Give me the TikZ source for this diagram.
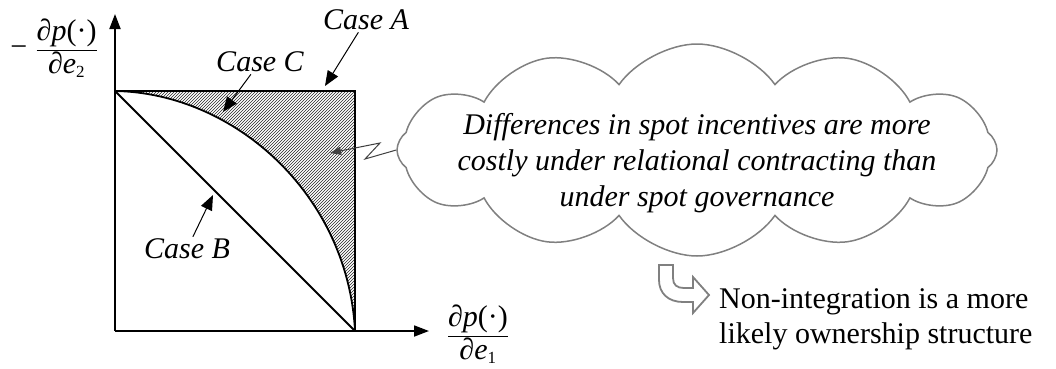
\documentclass[tikz,border=0pt]{standalone}
\usepackage{fontspec}
\setmainfont{Liberation Serif}
\usetikzlibrary{arrows.meta, positioning, patterns, shapes.symbols}

\newcommand{\pderiv}[1]{$\displaystyle\frac{\hbox{\itshape ∂p\/\upshape(·)}}{\hbox{\itshape ∂e}_{\hbox{\fontsize{17}{17}\selectfont #1}}}$}

\begin{document}
\begin{tikzpicture}[
    x=1pt, y=-1pt,
    every node/.style={font=\fontsize{30}{35}\selectfont},
    axis/.style={line width=1.8pt, -{Triangle[length=15pt, width=11pt]}},
    edge/.style={line width=1.8pt},
    ptr/.style={line width=1pt, -{Triangle[length=15pt, width=12pt]}},
    case/.style={font=\fontsize{30}{35}\selectfont\itshape, inner sep=2pt},
    thought/.style={cloud, cloud puffs=12, cloud puff arc=110, aspect=2.9, draw=black!50, line width=1.5pt, minimum width=600pt, minimum height=212pt},
    bolt/.style={line width=1pt, black!75, -{Triangle[length=11pt, width=8pt]}},
    hollow/.style={draw=black!50, line width=1.8pt, fill=white, line join=miter}
]
\useasboundingbox (0,0) rectangle (1056,368);

% axes and square
\coordinate (O) at (115,331);
\coordinate (tl) at (115,91);
\coordinate (tr) at (355,91);
\coordinate (br) at (355,331);

\fill[pattern=north east lines, pattern color=black!85] (tl) -- (tr) -- (br) .. controls (348,195) and (235,93) .. (tl);
\draw[edge] (tl) -- (tr) -- (br);
\draw[edge] (tl) -- (br);
\draw[edge] (br) .. controls (348,195) and (235,93) .. (tl);
\draw[axis] (O) -- (115,14);
\draw[axis] (O) -- (429,331);

\node (ylab) at (54,48) {−\;\pderiv{2}};
\node (xlab) at (478,334) {\pderiv{1}};

% case labels
\node[case] (caseA) at (366,20) {Case A};
\node[case] (caseC) at (260,62) {Case C};
\node[case] (caseB) at (187,249) {Case B};
\coordinate (pA) at (325,86);
\coordinate (pC) at (223,112);
\coordinate (pB) at (213,195);
\draw[ptr] (caseA) -- (pA);
\draw[ptr] (caseC) -- (pC);
\draw[ptr] (caseB) -- (pB);

% cloud
\node[thought] (cloud) at (697,150) {};
\node[font=\fontsize{30}{36}\selectfont\itshape, align=center] (msg) at (697,163)
    {Differences in spot incentives are more\\costly under relational contracting than\\under spot governance};
\coordinate (hatch) at (330,153);
\draw[bolt] (cloud.west) -- (365,159) -- (380,143) -- (hatch);

% conclusion
\draw[hollow] (659,265) -- (673,265) -- (673,278) .. controls (673,285) and (677,288) .. (684,288)
    -- (693,288) -- (693,277) -- (709,295) -- (693,313) -- (693,302) -- (683,302)
    .. controls (668,302) and (659,293) .. (659,280) -- cycle;
\node[anchor=west, align=left, inner sep=0pt] (concl) at (719,319)
    {Non-integration is a more\\likely ownership structure};
\end{tikzpicture}
\end{document}
